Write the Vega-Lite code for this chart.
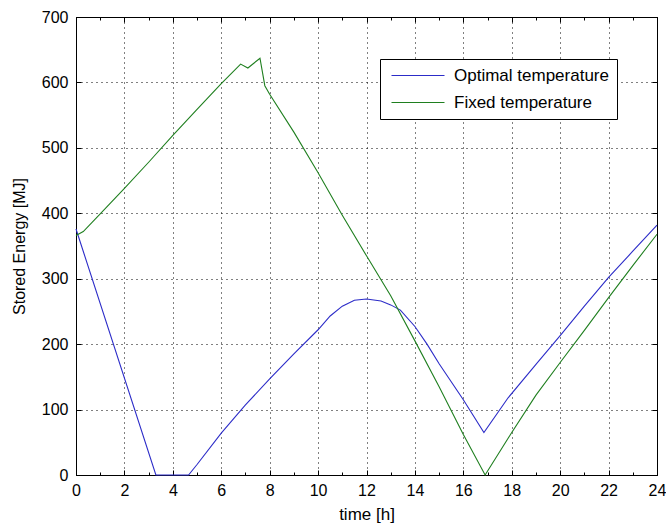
{
  "$schema": "https://vega.github.io/schema/vega-lite/v6.json",
  "width": 581,
  "height": 458,
  "autosize": "none",
  "padding": {"left": 76, "top": 17, "right": 9, "bottom": 52},
  "background": "white",
  "config": {"view": {"stroke": "black", "strokeWidth": 1}, "font": "Liberation Sans"},
  "data": {"values": [
    {"t": 0, "E": 376, "series": "Optimal temperature"},
    {"t": 3.3, "E": 0, "series": "Optimal temperature"},
    {"t": 4.65, "E": 0, "series": "Optimal temperature"},
    {"t": 5, "E": 16, "series": "Optimal temperature"},
    {"t": 6, "E": 64, "series": "Optimal temperature"},
    {"t": 7, "E": 107, "series": "Optimal temperature"},
    {"t": 8, "E": 147, "series": "Optimal temperature"},
    {"t": 9, "E": 185, "series": "Optimal temperature"},
    {"t": 10, "E": 222, "series": "Optimal temperature"},
    {"t": 10.5, "E": 243, "series": "Optimal temperature"},
    {"t": 11, "E": 258, "series": "Optimal temperature"},
    {"t": 11.5, "E": 267, "series": "Optimal temperature"},
    {"t": 12, "E": 269, "series": "Optimal temperature"},
    {"t": 12.6, "E": 266, "series": "Optimal temperature"},
    {"t": 13, "E": 260, "series": "Optimal temperature"},
    {"t": 13.4, "E": 252, "series": "Optimal temperature"},
    {"t": 14, "E": 227, "series": "Optimal temperature"},
    {"t": 14.5, "E": 200, "series": "Optimal temperature"},
    {"t": 15, "E": 170, "series": "Optimal temperature"},
    {"t": 16, "E": 115, "series": "Optimal temperature"},
    {"t": 16.85, "E": 65, "series": "Optimal temperature"},
    {"t": 17.85, "E": 118, "series": "Optimal temperature"},
    {"t": 19, "E": 169, "series": "Optimal temperature"},
    {"t": 20, "E": 213, "series": "Optimal temperature"},
    {"t": 21, "E": 258, "series": "Optimal temperature"},
    {"t": 22, "E": 302, "series": "Optimal temperature"},
    {"t": 23, "E": 342, "series": "Optimal temperature"},
    {"t": 24, "E": 382, "series": "Optimal temperature"},
    {"t": 0, "E": 366, "series": "Fixed temperature"},
    {"t": 0.3, "E": 372, "series": "Fixed temperature"},
    {"t": 1, "E": 399, "series": "Fixed temperature"},
    {"t": 2, "E": 438, "series": "Fixed temperature"},
    {"t": 3, "E": 478, "series": "Fixed temperature"},
    {"t": 4, "E": 519, "series": "Fixed temperature"},
    {"t": 5, "E": 559, "series": "Fixed temperature"},
    {"t": 6, "E": 598, "series": "Fixed temperature"},
    {"t": 6.8, "E": 628, "series": "Fixed temperature"},
    {"t": 7.1, "E": 622, "series": "Fixed temperature"},
    {"t": 7.6, "E": 637, "series": "Fixed temperature"},
    {"t": 7.8, "E": 595, "series": "Fixed temperature"},
    {"t": 8, "E": 582, "series": "Fixed temperature"},
    {"t": 9, "E": 524, "series": "Fixed temperature"},
    {"t": 10, "E": 462, "series": "Fixed temperature"},
    {"t": 11, "E": 397, "series": "Fixed temperature"},
    {"t": 12, "E": 335, "series": "Fixed temperature"},
    {"t": 13, "E": 274, "series": "Fixed temperature"},
    {"t": 14, "E": 205, "series": "Fixed temperature"},
    {"t": 15, "E": 135, "series": "Fixed temperature"},
    {"t": 16, "E": 62, "series": "Fixed temperature"},
    {"t": 16.9, "E": 0, "series": "Fixed temperature"},
    {"t": 18, "E": 65, "series": "Fixed temperature"},
    {"t": 19, "E": 122, "series": "Fixed temperature"},
    {"t": 20, "E": 172, "series": "Fixed temperature"},
    {"t": 21, "E": 221, "series": "Fixed temperature"},
    {"t": 22, "E": 271, "series": "Fixed temperature"},
    {"t": 23, "E": 320, "series": "Fixed temperature"},
    {"t": 24, "E": 368, "series": "Fixed temperature"}
  ]},
  "layer": [
    {
      "mark": {"type": "line", "strokeWidth": 1.1},
      "encoding": {
        "x": {
          "field": "t", "type": "quantitative",
          "scale": {"domain": [0, 24], "nice": false},
          "axis": {
            "title": "time [h]",
            "values": [0,1,2,3,4,5,6,7,8,9,10,11,12,13,14,15,16,17,18,19,20,21,22,23,24],
            "labelExpr": "datum.value % 2 === 0 ? datum.label : ''",
            "labelOverlap": false, "labelFlush": false,
            "tickSize": {"condition": {"test": "datum.value % 2 === 0", "value": -5}, "value": -3},
            "grid": true,
            "gridOpacity": {"condition": {"test": "datum.value % 2 === 0", "value": 1}, "value": 0},
            "gridDash": [1, 4], "gridColor": "black", "gridWidth": 1,
            "domainColor": "black", "tickColor": "black", "labelColor": "black",
            "labelFontSize": 16, "labelPadding": 12,
            "titleFontSize": 17, "titleFontWeight": "normal", "titleColor": "black", "titlePadding": 6
          }
        },
        "y": {
          "field": "E", "type": "quantitative",
          "scale": {"domain": [0, 700], "nice": false},
          "axis": {
            "title": "Stored Energy [MJ]",
            "values": [0,100,200,300,400,500,600,700],
            "tickSize": -5,
            "grid": true, "gridDash": [1, 4], "gridColor": "black", "gridWidth": 1, "gridOpacity": 1,
            "domainColor": "black", "tickColor": "black", "labelColor": "black",
            "labelFontSize": 16, "labelPadding": 13,
            "titleFontSize": 16, "titleFontWeight": "normal", "titleColor": "black", "titlePadding": 14
          }
        },
        "color": {
          "field": "series", "type": "nominal",
          "scale": {"domain": ["Optimal temperature", "Fixed temperature"], "range": ["#2c2cc8", "#1f7f1f"]},
          "legend": {
            "title": null, "orient": "none", "legendX": 304, "legendY": 42,
            "symbolType": "M-1,0H9.6", "symbolSize": 100, "symbolStrokeWidth": 1.2,
            "labelOffset": 49, "labelFontSize": 17, "labelColor": "black", "labelLimit": 300,
            "padding": 8, "rowPadding": 9,
            "strokeColor": "black", "fillColor": "white", "cornerRadius": 0
          }
        }
      }
    },
    {
      "mark": {"type": "line", "opacity": 0},
      "encoding": {
        "x": {
          "field": "t", "type": "quantitative",
          "axis": {
            "orient": "top", "title": null, "labels": false, "grid": false, "domain": false,
            "values": [0,1,2,3,4,5,6,7,8,9,10,11,12,13,14,15,16,17,18,19,20,21,22,23,24],
            "tickSize": {"condition": {"test": "datum.value % 2 === 0", "value": -5}, "value": -3},
            "tickColor": "black"
          }
        },
        "y": {
          "field": "E", "type": "quantitative",
          "axis": {
            "orient": "right", "title": null, "labels": false, "grid": false, "domain": false,
            "values": [0,100,200,300,400,500,600,700],
            "tickSize": -5, "tickColor": "black"
          }
        },
        "detail": {"field": "series", "type": "nominal"}
      }
    }
  ],
  "resolve": {"axis": {"x": "independent", "y": "independent"}}
}
